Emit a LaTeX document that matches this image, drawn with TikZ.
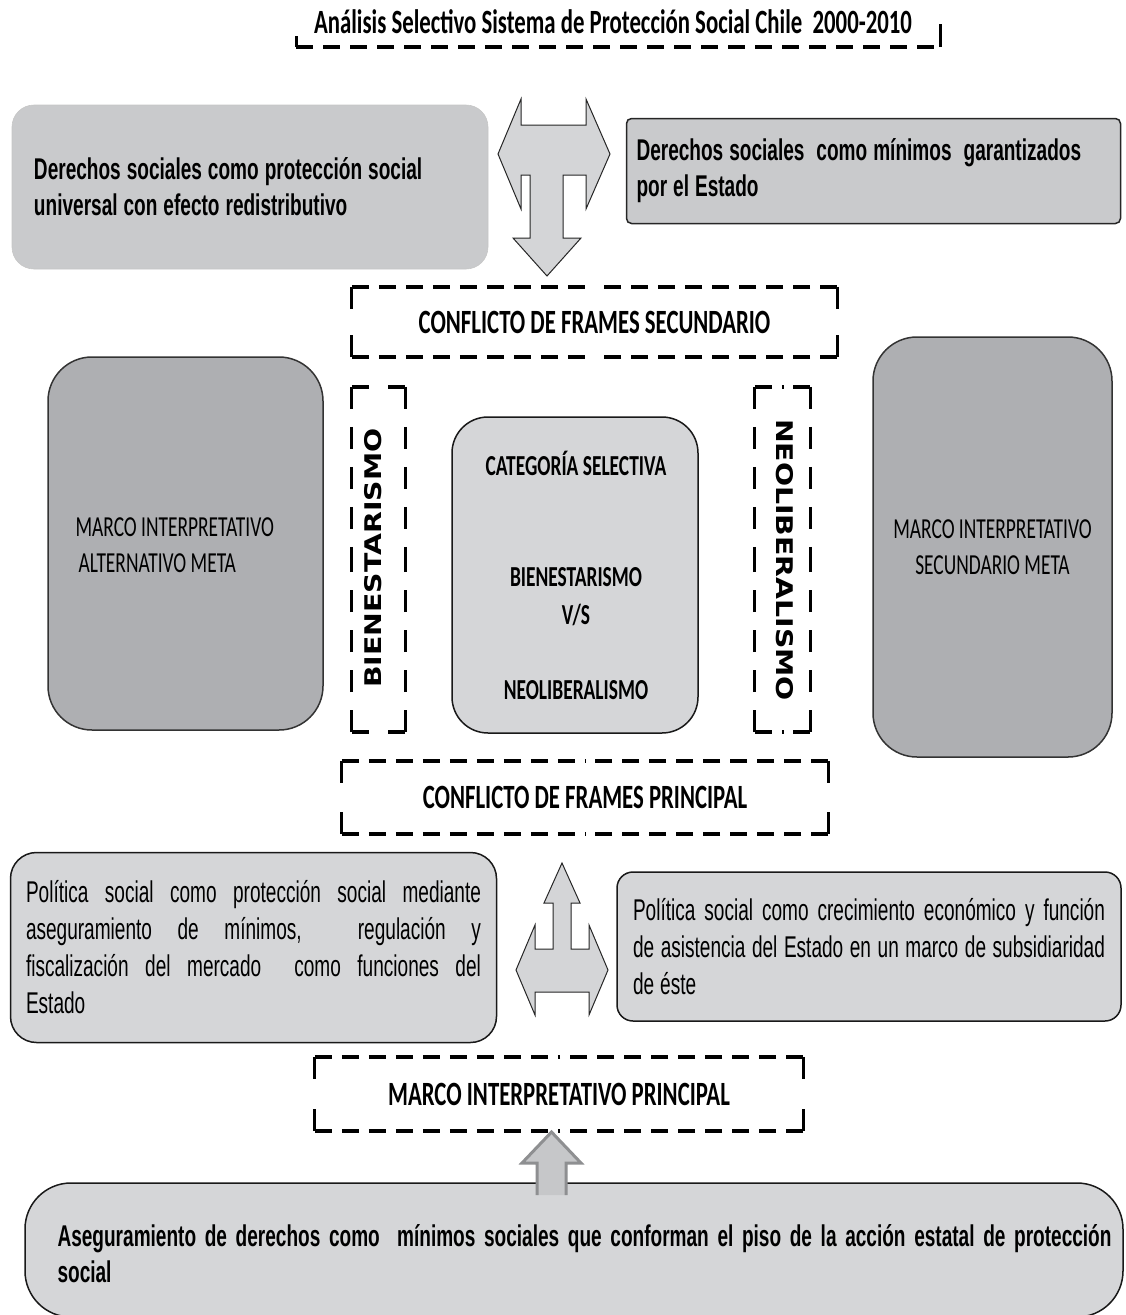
\documentclass[tikz,border=0pt]{standalone}
\usepackage{fontspec}
\setmainfont{Liberation Sans}
\newfontfamily\narrowsf[FakeStretch=0.635]{Liberation Sans}
\newfontfamily\capsf[FakeStretch=0.67]{Carlito}
\newfontfamily\widesf[FakeStretch=1.05]{DejaVu Sans}
\newcommand{\narrowbold}{\narrowsf\bfseries\fontsize{30}{36}\selectfont\fontdimen2\font=6pt\relax}
\newcommand{\narrowplain}{\narrowsf\fontsize{30}{37}\selectfont\fontdimen2\font=6pt\relax}
\definecolor{paleG}{RGB}{213,214,216}
\definecolor{midG}{RGB}{201,202,204}
\definecolor{darkG}{RGB}{174,175,178}
\definecolor{arrG}{RGB}{212,213,215}
\definecolor{upG}{RGB}{198,199,201}
\definecolor{upE}{RGB}{142,143,145}
\tikzset{
  hdash/.style={line width=4.5pt,dash pattern=on 17pt off 10pt},
  vdash/.style={line width=3pt,dash pattern=on 22pt off 18pt},
  dashfr/.style={inner sep=0pt},
  softbox/.style={rounded corners=22pt,fill=midG,draw=gray!45,line width=0.6pt},
  flatbox/.style={rounded corners=5pt,fill=midG,draw=black!85,line width=1.5pt},
  metabox/.style={rounded corners=44pt,fill=darkG,draw=black!80,line width=1.5pt},
  palebox/.style={fill=paleG,draw=black!90,line width=1.5pt},
  blockarrow/.style={fill=arrG,draw=black!85,line width=1pt,line join=miter},
  boldtxt/.style={font=\narrowbold},
  plaintxt/.style={font=\narrowplain},
  capsbold/.style={font=\capsf\bfseries\fontsize{34}{40}\selectfont},
  capsmid/.style={font=\capsf\bfseries\fontsize{29}{34}\selectfont},
  capslight/.style={font=\capsf\fontsize{29}{36}\selectfont},
  vertxt/.style={font=\widesf\bfseries\fontsize{27}{30}\selectfont},
}
% dashed frame round a named node, dashes start at the corners
\newcommand{\dashedframe}[1]{%
  \draw[hdash] (#1.north west) -- (#1.north) (#1.north east) -- (#1.north)
               (#1.south west) -- (#1.south) (#1.south east) -- (#1.south);
  \draw[vdash] (#1.north west) -- (#1.west) (#1.south west) -- (#1.west)
               (#1.north east) -- (#1.east) (#1.south east) -- (#1.east);}

\begin{document}
\begin{tikzpicture}[x=1pt,y=-1pt]
\useasboundingbox (0,0) rectangle (1125,1315);

% heading
\node[capsbold] (title) at (613,22) {Análisis Selectivo Sistema de Protección Social Chile \ 2000-2010};
\coordinate (tl) at (296,47); \coordinate (tr) at (940,47);
\draw[hdash] (tl) -- (tr);
\draw[line width=3pt] (tl) -- ++(0,-11) (tr) -- ++(0,-23);

% top row
\node[softbox,boldtxt,text width=432pt,inner xsep=22pt,minimum height=164pt,align=flush left] (univ) at (250,187)
  {Derechos sociales como protección social\\universal con efecto redistributivo};
\node[flatbox,boldtxt,text width=474pt,inner xsep=10pt,minimum height=105pt,align=flush left] (minim) at (873.5,171)
  {Derechos sociales \ como mínimos \ garantizados\\por el Estado};
\draw[blockarrow] (498,154) -- (521,99) -- (521,125) -- (586,125) -- (586,99) -- (610,154)
  -- (586,209) -- (586,175) -- (563,175) -- (563,238) -- (581,238) -- (547,276) -- (513,238)
  -- (530,238) -- (530,175) -- (521,175) -- (521,209) -- cycle;

% centre
\node[dashfr,capsbold,minimum width=485pt,minimum height=70pt] (csec) at (594.5,322) {CONFLICTO DE FRAMES SECUNDARIO};
\dashedframe{csec}
\node[metabox,minimum width=275pt,minimum height=373pt] (altm) at (185.5,543.5) {};
\node[capslight,anchor=west,align=left] (altmtxt) at (72,545) {MARCO INTERPRETATIVO\\\hspace{3pt}ALTERNATIVO META};
\node[metabox,capslight,minimum width=239pt,minimum height=420pt,align=center] (secm) at (992.5,547)
  {MARCO INTERPRETATIVO\\SECUNDARIO META};
\node[dashfr,minimum width=53pt,minimum height=345pt] (bienf) at (378.5,559.5) {};
\dashedframe{bienf}
\node[vertxt,rotate=90] (bientxt) at (373,558) {\scalebox{1}[0.85]{BIENESTARISMO}};
\node[dashfr,minimum width=55pt,minimum height=345pt] (neof) at (782.5,559.5) {};
\dashedframe{neof}
\node[vertxt,rotate=-90] (neotxt) at (785,560) {\scalebox{1}[0.85]{NEOLIBERALISMO}};
\node[palebox,rounded corners=36pt,minimum width=246pt,minimum height=316pt] (categ) at (575,575) {};
\node[capsmid] (cat1) at (576,463) {CATEGORÍA SELECTIVA};
\node[capsmid] (cat2) at (576,577) {BIENESTARISMO};
\node[capsmid] (cat3) at (576,615) {V/S};
\node[capsmid] (cat4) at (576,690) {NEOLIBERALISMO};
\node[dashfr,capsbold,minimum width=486pt,minimum height=73pt] (cprin) at (585,797.5) {CONFLICTO DE FRAMES PRINCIPAL};
\dashedframe{cprin}

% lower row
\node[palebox,rounded corners=26pt,plaintxt,text width=455pt,inner xsep=15.5pt,minimum height=190pt,align=justify] (protec) at (253.5,947.5)
  {Política social como protección social mediante\linebreak
   aseguramiento de mínimos, \ regulación y\linebreak
   fiscalización del mercado \ como funciones del\linebreak Estado};
\node[palebox,rounded corners=16pt,plaintxt,text width=472pt,inner xsep=16pt,minimum height=149pt,align=justify] (subsid) at (869,946.5)
  {Política social como crecimiento económico y función\linebreak
   de asistencia del Estado en un marco de subsidiaridad\linebreak de éste};
\draw[blockarrow] (562,863) -- (580,903) -- (571,903) -- (571,949) -- (589,949) -- (589,925)
  -- (608,970) -- (589,1015) -- (589,992) -- (535,992) -- (535,1015) -- (516,970) -- (535,925)
  -- (535,949) -- (553,949) -- (553,903) -- (544,903) -- cycle;

% bottom
\node[dashfr,capsbold,minimum width=488pt,minimum height=74pt] (mip) at (559,1094) {MARCO INTERPRETATIVO PRINCIPAL};
\dashedframe{mip}
\node[palebox,rounded corners=46pt,minimum width=1098pt,minimum height=134pt] (piso) at (574,1250) {};
\node[boldtxt,text width=1054pt,align=justify,anchor=north west] (pisotxt) at (54,1221)
  {Aseguramiento de derechos como \ mínimos sociales que conforman el piso de la acción estatal de protección\linebreak social};
\draw[fill=upG,draw=upE,line width=3pt] (537,1195) -- (537,1163) -- (522,1163) -- (551.5,1132)
  -- (581,1163) -- (566,1163) -- (566,1195);
\end{tikzpicture}
\end{document}
